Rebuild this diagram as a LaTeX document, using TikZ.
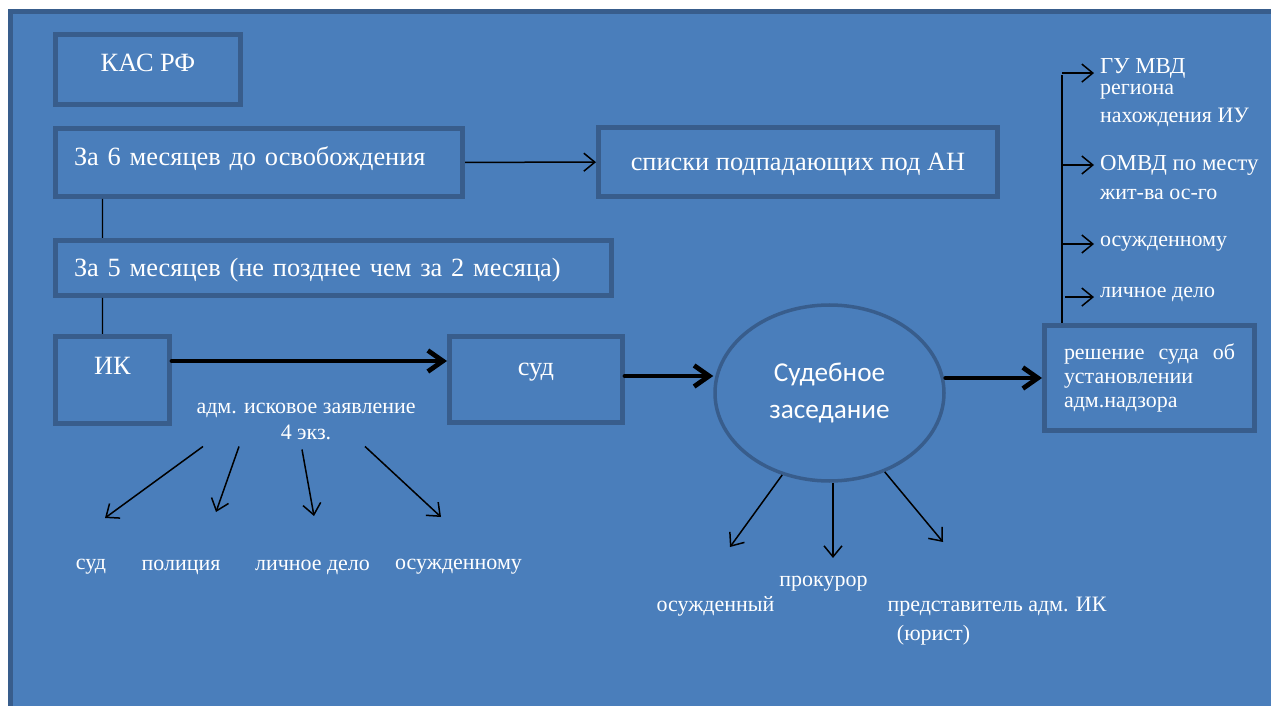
\documentclass[tikz,border=0pt]{standalone}
\usepackage{fontspec}
\setmainfont{Liberation Serif}
\newfontfamily\ovalfont{Carlito}
\usetikzlibrary{shapes.geometric,arrows.meta}
\definecolor{bgblue}{RGB}{74,126,187}
\definecolor{edgeblue}{RGB}{56,93,140}
\tikzstyle{frame} = [draw=edgeblue, line width=0.1cm, fill=bgblue]
\tikzstyle{block} = [rectangle, draw=edgeblue, line width=0.1cm, fill=bgblue,
    text=white, inner xsep=0.37cm, font=\fontsize{15}{18}\selectfont]
\tikzstyle{oval} = [ellipse, draw=edgeblue, line width=0.07cm, fill=bgblue,
    text=white, align=center, font=\ovalfont\fontsize{15.5}{21}\selectfont]
\tikzstyle{note} = [text=white, font=\fontsize{12.5}{15.3}\selectfont]
\tikzstyle{side} = [note, anchor=west, inner ysep=0.5pt]
\tikzstyle{line} = [draw, line width=0.03cm, -{Straight Barb[length=0.22cm,width=0.36cm]}]
\tikzstyle{bigline} = [draw, line width=0.095cm, line cap=round, line join=round,
    -{Straight Barb[length=0.3cm,width=0.42cm]}]
\tikzstyle{link} = [draw, line width=0.025cm]

\begin{document}
\begin{tikzpicture}
	\fill[white] (0,0) rectangle (25.42,-14.12);
	\useasboundingbox (0,0) rectangle (25.42,-14.12);
	\path[frame] (0.21,-0.24) rectangle (25.8,-14.5);

	% left column
	\node [block, minimum width=3.70cm, minimum height=1.40cm, text height=0.35cm, text depth=0.28cm] (kas) at (2.96,-1.39) {КАС РФ};
	\node [block, minimum width=8.14cm, minimum height=1.36cm, text width=7.40cm, align=left, text height=0.35cm, text depth=0.22cm] (six) at (5.18,-3.25) {За 6 месяцев до освобождения};
	\node [block, minimum width=7.98cm, minimum height=1.38cm, text height=0.35cm, text depth=0cm] (spiski) at (15.96,-3.24) {списки подпадающих под АН};
	\node [block, minimum width=11.12cm, minimum height=1.10cm, text width=10.38cm, align=left, text height=0.35cm, text depth=0cm] (five) at (6.67,-5.36) {За 5 месяцев (не позднее чем за 2 месяца)};
	\node [block, minimum width=2.28cm, minimum height=1.74cm, text height=0.35cm, text depth=0.58cm] (ik) at (2.25,-7.60) {ИК};
	\node [block, minimum width=3.46cm, minimum height=1.72cm, text height=0.35cm, text depth=0.50cm] (sud) at (10.72,-7.59) {суд};
	\node [oval, minimum width=4.58cm, minimum height=3.52cm] (sess) at (16.59,-7.86) {Судебное\\заседание};
	\node [block, minimum width=4.20cm, minimum height=2.10cm, text width=3.42cm, align=left, inner xsep=0.39cm, font=\fontsize{12.5}{13.6}\selectfont] (resh) at (22.99,-7.56) {решение\hfill суда\hfill об\\установлении\\адм.надзора};

	% copies of the claim
	\node [note, align=center] (isk) at (6.12,-8.43) {адм. исковое заявление\\4 экз.};
	\node [note] (lsud) at (1.82,-11.34) {суд};
	\node [note] (lpol) at (3.62,-11.34) {полиция};
	\node [note] (ldelo) at (6.25,-11.34) {личное дело};
	\node [note] (losuzh) at (9.17,-11.34) {осужденному};

	% court session
	\node [note] (losuzhd) at (14.31,-12.13) {осужденный};
	\node [note] (lprok) at (16.47,-11.67) {прокурор};
	\node [note] (lpred) at (19.94,-12.13) {представитель адм. ИК};
	\node [note] (lyur) at (18.67,-12.70) {(юрист)};

	% decision goes to
	\coordinate (stemtop) at (21.24,-1.50);
	\node [side, font=\fontsize{13}{16}\selectfont] (gu) at (21.88,-1.36) {ГУ МВД};
	\node [side] (gureg) at (21.88,-1.84) {региона};
	\node [side] (gureg2) at (21.88,-2.34) {нахождения ИУ};
	\node [side, font=\fontsize{13}{16}\selectfont] (omvd) at (21.88,-3.30) {ОМВД по месту};
	\node [side] (omvd2) at (21.88,-3.88) {жит-ва ос-го};
	\node [side] (rosuzh) at (21.88,-4.88) {осужденному};
	\node [side] (rdelo) at (21.88,-5.88) {личное дело};

	\path [line] (six) -- (spiski);
	\path [link] ([xshift=0.99cm]six.south west) -- ([xshift=0.99cm]five.north west);
	\path [link] ([xshift=0.99cm]five.south west) -- ([xshift=0.99cm]ik.north west);
	\path [bigline] ([yshift=0.38cm]ik.east) -- ([yshift=0.38cm]ik.east -| sud.west);
	\path [bigline] ([yshift=0.07cm]sud.east) -- ([yshift=0.07cm]sud.east -| sess.west);
	\path [bigline] (sess.east |- resh.west) -- (resh.west);

	\path [line] ([xshift=-2.06cm]isk.south) -- ([xshift=0.28cm,yshift=0.98cm]lsud.center);
	\path [line] ([xshift=-1.34cm]isk.south) -- ([xshift=0.70cm,yshift=1.10cm]lpol.center);
	\path [line] ([xshift=-0.08cm,yshift=-0.06cm]isk.south) -- ([xshift=0.03cm,yshift=1.02cm]ldelo.center);
	\path [line] ([xshift=1.18cm]isk.south) -- ([xshift=-0.35cm,yshift=1.00cm]losuzh.center);

	\path [line] (sess.-120) -- ([xshift=0.29cm,yshift=1.19cm]losuzhd.center);
	\path [line] ([xshift=0.07cm]sess.south) -- ([xshift=0.19cm,yshift=0.51cm]lprok.center);
	\path [line] (sess.-55) -- ([xshift=-1.08cm,yshift=1.29cm]lpred.center);

	\path [link] (stemtop |- resh.north) -- (stemtop);
	\path [line] (stemtop |- gu.base west) -- (gu.base west);
	\path [line] (stemtop |- omvd.west) -- (omvd.west);
	\path [line] (stemtop |- rosuzh.west) -- (rosuzh.west);
	\path [line] ([xshift=0.06cm]stemtop |- rdelo.base west) -- (rdelo.base west);
\end{tikzpicture}
\end{document}
